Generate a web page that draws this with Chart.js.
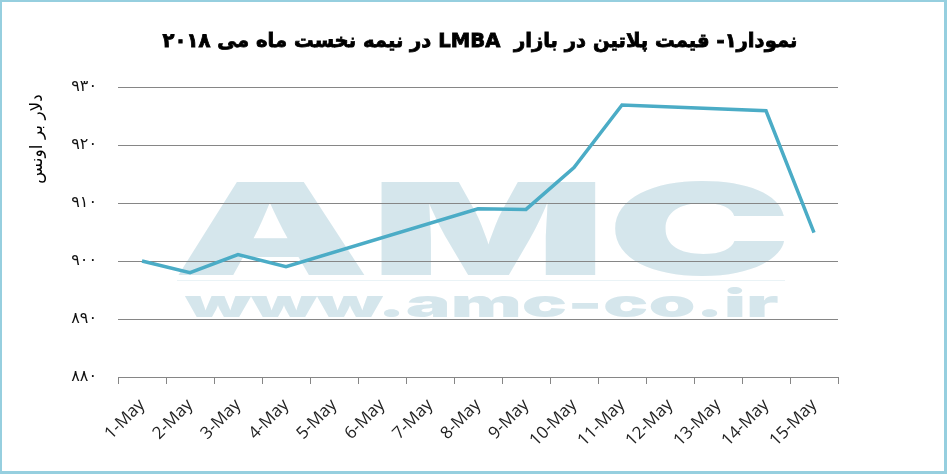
<!DOCTYPE html>
<html><head><meta charset="utf-8">
<script src="https://cdn.jsdelivr.net/npm/chart.js@4"></script>
<style>html,body{margin:0;padding:0;background:#fff}#wrap{width:947px;height:474px;position:relative}</style>
</head><body><div id="wrap"><canvas id="c" width="947" height="474"></canvas></div>
<script>
const categories = ['1-May','2-May','3-May','4-May','5-May','6-May','7-May','8-May','9-May','10-May','11-May','12-May','13-May','14-May','15-May'];
const prices = [900.0, 898.0, 901.1, 899.0, null, null, null, 909.0, 908.9, 916.1, 926.9, null, null, 925.9, 904.9];
const yTicks = [880, 890, 900, 910, 920, 930];
const titleText = 'نمودار۱- قیمت پلاتین در بازار  LMBA در نیمه نخست ماه می ۲۰۱۸';
const yTitleText = 'دلار بر اونس';
const watermarkMain = 'AMC';
const watermarkSub = 'www.amc-co.ir';

const faDigits = '۰۱۲۳۴۵۶۷۸۹';
const toFa = v => String(v).replace(/\d/g, d => faDigits[d]);

function fitText(ctx, text, font, x0, y0, x1, y1) {
  ctx.save();
  ctx.font = font;
  ctx.textAlign = 'left';
  ctx.textBaseline = 'alphabetic';
  const m = ctx.measureText(text);
  const w = m.actualBoundingBoxLeft + m.actualBoundingBoxRight;
  const h = m.actualBoundingBoxAscent + m.actualBoundingBoxDescent;
  ctx.translate(x0, y0);
  ctx.scale((x1 - x0) / w, (y1 - y0) / h);
  ctx.fillText(text, m.actualBoundingBoxLeft, m.actualBoundingBoxAscent);
  ctx.restore();
}

const decor = {
  id: 'decor',
  beforeDraw(chart) {
    const ctx = chart.ctx;
    ctx.save();
    ctx.fillStyle = '#ffffff';
    ctx.fillRect(0, 0, chart.width, chart.height);
    ctx.fillStyle = '#d5e6ec';
    fitText(ctx, watermarkMain, '900 100px Inter', 178, 180, 785, 276);
    fitText(ctx, watermarkSub, '900 40px Inter', 183, 286, 778, 317);
    ctx.fillStyle = '#eaf3f6';
    ctx.fillRect(177, 280, 608, 1);
    ctx.restore();
  },
  afterDraw(chart) {
    const ctx = chart.ctx;
    ctx.save();
    // title
    ctx.direction = 'rtl';
    ctx.fillStyle = '#000000';
    ctx.strokeStyle = '#000000';
    ctx.textAlign = 'center';
    ctx.textBaseline = 'middle';
    ctx.font = 'bold 24px "DejaVu Sans"';
    const tw = ctx.measureText(titleText).width;
    const size = Math.min(28, 24 * 636 / tw);
    ctx.font = 'bold ' + size.toFixed(1) + 'px "DejaVu Sans"';
    ctx.lineWidth = 0.8;
    ctx.fillText(titleText, 480, 42);
    ctx.strokeText(titleText, 480, 42);
    // y axis title
    ctx.save();
    ctx.translate(38, 139);
    ctx.rotate(-Math.PI / 2);
    ctx.font = '17px "DejaVu Sans"';
    ctx.fillText(yTitleText, 0, 0);
    ctx.restore();
    // frame
    ctx.fillStyle = '#96cfdf';
    ctx.fillRect(0, 0, 947, 2);
    ctx.fillRect(0, 0, 2, 474);
    ctx.fillRect(944, 0, 3, 474);
    ctx.fillRect(0, 471, 947, 3);
    ctx.restore();
  }
};

new Chart(document.getElementById('c'), {
  type: 'line',
  data: {
    labels: categories,
    datasets: [{
      data: prices,
      borderColor: '#4bacc6',
      borderWidth: 3.5,
      pointRadius: 0,
      pointHoverRadius: 0,
      tension: 0,
      spanGaps: true,
      fill: false
    }]
  },
  options: {
    responsive: false,
    devicePixelRatio: 1,
    animation: false,
    layout: { padding: { top: 87, right: 109, bottom: 0, left: 0 } },
    plugins: { legend: { display: false }, tooltip: { enabled: false }, title: { display: false } },
    scales: {
      x: {
        type: 'category',
        offset: true,
        grid: { offset: true, drawOnChartArea: false, drawTicks: true, tickLength: 7, color: '#868686' },
        border: { display: true, color: '#868686' },
        ticks: { autoSkip: false, maxRotation: 45, minRotation: 45, padding: 11, color: '#222222', font: { family: '"Open Sans"', size: 17 } },
        afterFit(s) { s.height = 97; }
      },
      y: {
        min: 880, max: 930,
        afterBuildTicks(s) { s.ticks = yTicks.map(v => ({ value: v })); },
        grid: { color: '#868686', drawTicks: false, lineWidth: 1 },
        border: { display: false },
        ticks: { padding: 21, color: '#111111', font: { family: '"DejaVu Sans"', size: 16 }, callback: v => toFa(v) },
        afterFit(s) { s.width = 118; }
      }
    }
  },
  plugins: [decor]
});
</script></body></html>
